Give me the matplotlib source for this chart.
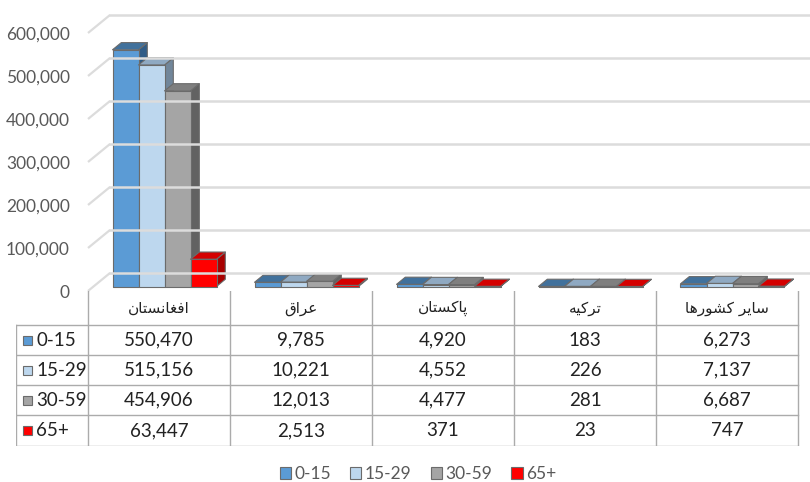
import matplotlib
matplotlib.use("Agg")
import matplotlib.pyplot as plt
from matplotlib.patches import Polygon, Patch

# ---- data -------------------------------------------------------------
countries = ["افغانستان", "عراق", "پاکستان", "ترکیه", "سایر کشورها"]
groups = ["0-15", "15-29", "30-59", "65+"]
v_0_15 = [550470, 9785, 4920, 183, 6273]
v_15_29 = [515156, 10221, 4552, 226, 7137]
v_30_59 = [454906, 12013, 4477, 281, 6687]
v_65 = [63447, 2513, 371, 23, 747]
series = [v_0_15, v_15_29, v_30_59, v_65]
y_ticks = [0, 100000, 200000, 300000, 400000, 500000, 600000]

front_c = ["#5B9BD5", "#BDD7EE", "#A5A5A5", "#FF0000"]
top_c = ["#41719C", "#8FA9C2", "#7F7F7F", "#D40000"]
side_c = ["#2F5C87", "#71869A", "#626262", "#A80000"]
EDGE = "#6B6B6B"
GRID = "#DCDCDC"
TXT = "#595959"
LATIN = ["Lato", "DejaVu Sans"]

# ---- simple Persian shaping (matplotlib has no shaping / bidi) --------
FORMS = {
    "ا": ("\uFE8D", "\uFE8E", None, None),
    "پ": ("\uFB56", "\uFB57", "\uFB58", "\uFB59"),
    "ت": ("\uFE95", "\uFE96", "\uFE97", "\uFE98"),
    "ر": ("\uFEAD", "\uFEAE", None, None),
    "س": ("\uFEB1", "\uFEB2", "\uFEB3", "\uFEB4"),
    "ش": ("\uFEB5", "\uFEB6", "\uFEB7", "\uFEB8"),
    "ع": ("\uFEC9", "\uFECA", "\uFECB", "\uFECC"),
    "غ": ("\uFECD", "\uFECE", "\uFECF", "\uFED0"),
    "ف": ("\uFED1", "\uFED2", "\uFED3", "\uFED4"),
    "ق": ("\uFED5", "\uFED6", "\uFED7", "\uFED8"),
    "ک": ("\uFB8E", "\uFB8F", "\uFB90", "\uFB91"),
    "ن": ("\uFEE5", "\uFEE6", "\uFEE7", "\uFEE8"),
    "ه": ("\uFEE9", "\uFEEA", "\uFEEB", "\uFEEC"),
    "و": ("\uFEED", "\uFEEE", None, None),
    "ی": ("\uFBFC", "\uFBFD", "\uFBFE", "\uFBFF"),
}


def shape_fa(s):
    out = []
    for i, ch in enumerate(s):
        if ch not in FORMS:
            out.append(ch)
            continue
        prev = s[i - 1] if i > 0 else None
        nxt = s[i + 1] if i + 1 < len(s) else None
        jp = prev in FORMS and FORMS[prev][2] is not None
        jn = nxt in FORMS and FORMS[ch][2] is not None
        iso, fin, ini, med = FORMS[ch]
        if jp and jn:
            out.append(med)
        elif jp:
            out.append(fin)
        elif jn:
            out.append(ini)
        else:
            out.append(iso)
    return "".join(out)[::-1]


# ---- geometry (pixels of an 810x482 canvas) ---------------------------
W, H = 810, 482
CAT_PX = 142.0
X_LEFT, X_TABLE = 88, 16
Y_ZERO, Y_TOP = 291, 33
DEPTH_PX = (22, 18)
BAR_W = 26 / CAT_PX
D0, D1 = 0.25, 0.65        # bar front / back within the floor depth

fig = plt.figure(figsize=(W / 100, H / 100), dpi=100)
ax = fig.add_axes([X_LEFT / W, (H - Y_ZERO) / H, (W - X_LEFT) / W,
                   (Y_ZERO - Y_TOP) / H])
ax.set_xlim(0, (W - X_LEFT) / CAT_PX)
ax.set_ylim(0, 600000)
for s in ax.spines.values():
    s.set_visible(False)
ax.set_xticks([])
ax.set_yticks(y_ticks)
ax.set_yticklabels([f"{t:,}" for t in y_ticks], color=TXT, fontsize=12.5,
                   family=LATIN)
ax.tick_params(axis="y", length=0, pad=13)

DX = DEPTH_PX[0] / CAT_PX
DY = DEPTH_PX[1] * 600000 / (Y_ZERO - Y_TOP)


def pt(x, y, d):
    return (x + d * DX, y + d * DY)


# back-wall gridlines + the diagonal on the side wall
xmax = ax.get_xlim()[1]
for t in y_ticks:
    ax.plot([0, DX], [t, t + DY], color=GRID, lw=1.6, clip_on=False,
            solid_capstyle="butt")
    ax.plot([DX, xmax + 1], [t + DY, t + DY], color=GRID, lw=1.8,
            clip_on=False)

# 3D bars
for ci in range(len(countries)):
    x_start = ci + 0.5 - 2 * BAR_W
    for si, vals in enumerate(series):
        x0 = x_start + si * BAR_W
        x1 = x0 + BAR_W
        v = vals[ci]
        side = [pt(x1, 0, D0), pt(x1, 0, D1), pt(x1, v, D1), pt(x1, v, D0)]
        top = [pt(x0, v, D0), pt(x1, v, D0), pt(x1, v, D1), pt(x0, v, D1)]
        front = [pt(x0, 0, D0), pt(x1, 0, D0), pt(x1, v, D0), pt(x0, v, D0)]
        for poly, col in ((side, side_c[si]), (top, top_c[si]),
                          (front, front_c[si])):
            ax.add_patch(Polygon(poly, closed=True, facecolor=col,
                                 edgecolor=EDGE, lw=0.8, clip_on=False,
                                 joinstyle="round"))

# ---- data table -------------------------------------------------------
Y_BOT = 446
tab = fig.add_axes([X_TABLE / W, (H - Y_BOT) / H, (W - X_TABLE) / W,
                    (Y_BOT - Y_ZERO) / H])
tab.set_xlim(-(X_LEFT - X_TABLE) / CAT_PX, xmax)
tab.set_ylim(Y_BOT - Y_ZERO, 0)
tab.axis("off")
LINE = "#ABABAB"
row_edges = [34, 64, 94, 124, 155]
x_lab = tab.get_xlim()[0]
n = len(countries)
for ci in range(n + 1):
    tab.plot([ci, ci], [0, row_edges[-1]], color=LINE, lw=1)
tab.plot([x_lab, x_lab], [row_edges[0], row_edges[-1]], color=LINE, lw=1)
for r in row_edges:
    tab.plot([x_lab, n], [r, r], color=LINE, lw=1)

for ci, name in enumerate(countries):
    tab.text(ci + 0.5, row_edges[0] / 2, shape_fa(name), ha="center",
             va="center", fontsize=11, family=["DejaVu Sans"], color="#222222")
sq = 9 / CAT_PX
for si, g in enumerate(groups):
    yc = (row_edges[si] + row_edges[si + 1]) / 2
    xs = x_lab + 7 / CAT_PX
    tab.add_patch(Polygon([(xs, yc - 4.5), (xs + sq, yc - 4.5),
                           (xs + sq, yc + 4.5), (xs, yc + 4.5)],
                          closed=True, facecolor=front_c[si], edgecolor=EDGE, lw=0.8))
    tab.text(x_lab + 20 / CAT_PX, yc, g, ha="left", va="center",
             fontsize=13.5, family=LATIN, color="#222222")
    for ci in range(n):
        tab.text(ci + 0.5, yc, f"{series[si][ci]:,}", ha="center",
                 va="center", fontsize=13.5, family=LATIN, color="#222222")

# ---- legend -----------------------------------------------------------
handles = [Patch(facecolor=front_c[i], edgecolor=EDGE, lw=0.8, label=g)
           for i, g in enumerate(groups)]
leg = fig.legend(handles=handles, loc="center", bbox_to_anchor=(418 / W, 1 - 474 / H),
                 ncol=4, frameon=False, handlelength=0.65, handleheight=0.65,
                 handletextpad=0.2, columnspacing=1.1,
                 prop={"family": LATIN, "size": 12.5})
for t in leg.get_texts():
    t.set_color(TXT)

fig.savefig("out.png", dpi=100)
